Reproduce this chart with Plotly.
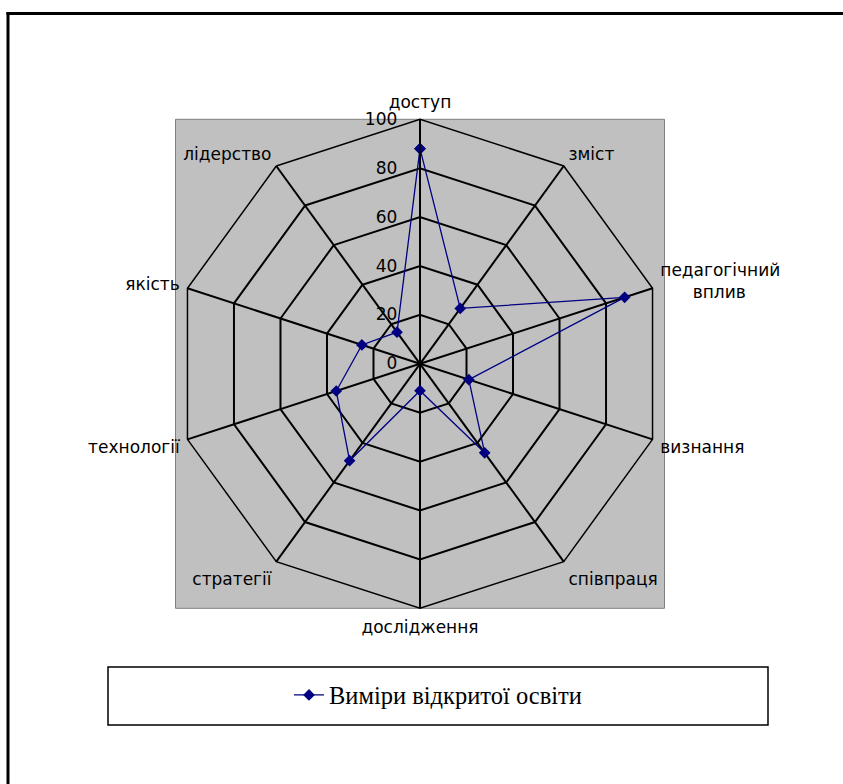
import plotly.graph_objects as go

categories = ["доступ", "зміст", "педагогічний вплив", "визнання", "співпраця",
              "дослідження", "стратегії", "технології", "якість", "лідерство"]
values = [88, 28, 88, 21, 45, 11, 49, 36, 25, 16]
series_name = "Виміри відкритої освіти"
radial_ticks = [0, 20, 40, 60, 80, 100]


def label(text):
    # two-word labels are wrapped on two centred lines
    if " " in text:
        a, b = text.split(" ", 1)
        pad = "\u00a0" * max(0, round((len(a) - len(b)) * 0.9))
        return a + "<br>" + pad + b
    return text


tick_labels = [label(c) for c in categories]

W, H = 843, 784
cx, cy, R = 420, 363.8, 244.5
x0, x1 = (cx - R) / W, (cx + R) / W
y0, y1 = 1 - (cy + R) / H, 1 - (cy - R) / H

fig = go.Figure()
fig.add_trace(go.Scatterpolar(
    r=values + [values[0]],
    theta=categories + [categories[0]],
    mode="lines+markers",
    name=series_name,
    line=dict(color="#000080", width=1.3),
    marker=dict(symbol="diamond", size=9, color="#000080"),
    showlegend=True,
))

fig.update_layout(
    width=W, height=H,
    margin=dict(l=0, r=0, t=0, b=0),
    paper_bgcolor="white",
    polar=dict(
        domain=dict(x=[x0, x1], y=[y0, y1]),
        bgcolor="rgba(0,0,0,0)",
        gridshape="linear",
        angularaxis=dict(
            rotation=90, direction="clockwise",
            categoryorder="array", categoryarray=categories,
            tickmode="array", tickvals=categories, ticktext=tick_labels,
            showline=True, linecolor="black", linewidth=1.5,
            gridcolor="black", gridwidth=1.5,
            ticks="outside", ticklen=4, tickcolor="rgba(0,0,0,0)",
            tickfont=dict(family="DejaVu Sans", size=17, color="black"),
        ),
        radialaxis=dict(
            range=[0, 100], tickvals=radial_ticks,
            angle=90, tickangle=90, showline=True, linecolor="black", linewidth=1.5,
            gridcolor="black", gridwidth=1.5,
            ticks="outside", ticklen=16, tickcolor="rgba(0,0,0,0)",
            tickfont=dict(family="DejaVu Sans", size=17, color="black"),
            side="counterclockwise",
        ),
    ),
    showlegend=True,
    legend=dict(
        x=438 / W, y=1 - 695 / H, xanchor="center", yanchor="middle",
        bgcolor="rgba(0,0,0,0)", borderwidth=0,
        font=dict(family="Liberation Serif", size=24.5, color="black"),
    ),
    shapes=[
        dict(type="rect", xref="paper", yref="paper", layer="below",
             x0=x0, x1=x1, y0=y0, y1=y1,
             fillcolor="#C0C0C0", line=dict(color="#808080", width=1)),
        dict(type="rect", xref="paper", yref="paper", layer="below",
             x0=108 / W, x1=768 / W, y0=1 - 725 / H, y1=1 - 667 / H,
             fillcolor="white", line=dict(color="black", width=1.5)),
        dict(type="line", xref="paper", yref="paper", layer="above",
             x0=6.5 / W, x1=1.05, y0=1 - 13.5 / H, y1=1 - 13.5 / H,
             line=dict(color="black", width=3)),
        dict(type="line", xref="paper", yref="paper", layer="above",
             x0=8 / W, x1=8 / W, y0=1 - 12 / H, y1=-0.05,
             line=dict(color="black", width=3)),
    ],
)

fig.write_html(
    "out.html",
    config={"displayModeBar": False},
    post_script=(
        "document.body.style.margin='0px';"
        "document.body.style.overflow='hidden';"
        "document.documentElement.style.overflow='hidden';"
    ),
)
